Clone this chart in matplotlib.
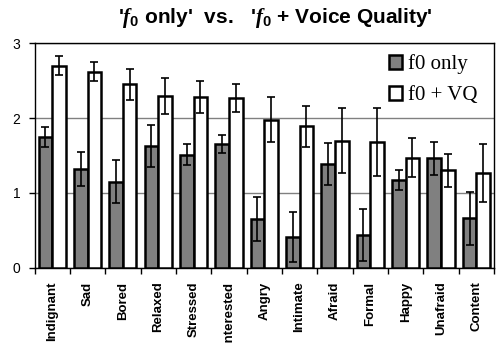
import numpy as np
import matplotlib.pyplot as plt
from matplotlib.ticker import FixedLocator

emotions = ['Indignant', 'Sad', 'Bored', 'Relaxed', 'Stressed', 'Interested',
            'Angry', 'Intimate', 'Afraid', 'Formal', 'Happy', 'Unafraid', 'Content']
f0_mean = [1.75, 1.32, 1.15, 1.63, 1.51, 1.65, 0.65, 0.41, 1.39, 0.44, 1.17, 1.46, 0.66]
f0_err = [0.13, 0.23, 0.29, 0.28, 0.14, 0.12, 0.29, 0.33, 0.28, 0.35, 0.13, 0.22, 0.35]
vq_mean = [2.70, 2.62, 2.45, 2.29, 2.28, 2.27, 1.98, 1.89, 1.70, 1.68, 1.47, 1.30, 1.27]
vq_err = [0.13, 0.13, 0.21, 0.24, 0.21, 0.19, 0.30, 0.27, 0.43, 0.45, 0.26, 0.22, 0.39]
y_ticks = [0, 1, 2, 3]

# italic serif f with a bold sans subscript in the title
plt.rcParams['mathtext.fontset'] = 'custom'
plt.rcParams['mathtext.it'] = 'Liberation Serif:italic:bold'
plt.rcParams['mathtext.bf'] = 'Liberation Sans:bold'
plt.rcParams['mathtext.rm'] = 'Liberation Sans:bold'

fig = plt.figure(figsize=(4.97, 3.43), dpi=100)
ax = fig.add_axes([34.5 / 497, 1 - 267.7 / 343, 459.5 / 497, (267.7 - 43.3) / 343])

x = np.arange(len(emotions))
w = 0.385
ekw = dict(ecolor='black', elinewidth=1.2, capsize=3, capthick=1.2)
ax.bar(x - w / 2, f0_mean, w, yerr=f0_err, color='#808080', edgecolor='black',
       linewidth=1.8, label='f0 only', error_kw=ekw, zorder=3)
ax.bar(x + w / 2, vq_mean, w, yerr=vq_err, color='white', edgecolor='black',
       linewidth=1.8, label='f0 + VQ', error_kw=ekw, zorder=3)

ax.set_xlim(-0.5, len(emotions) - 0.5)
ax.set_ylim(0, 3)
ax.set_yticks(y_ticks)
ax.set_yticklabels([str(t) for t in y_ticks], fontsize=10, family='Liberation Sans')
ax.yaxis.grid(True, color='#808080', linewidth=1, zorder=0)

# category labels sit at the centres, tick marks go on the boundaries
ax.set_xticks(x)
ax.set_xticklabels(emotions, rotation=90, fontsize=9.5, fontweight='bold',
                   family='Liberation Sans')
ax.tick_params(axis='x', which='major', length=0, pad=10)
ax.xaxis.set_minor_locator(FixedLocator(np.arange(-0.5, len(emotions), 1.0)))
ax.tick_params(axis='x', which='minor', length=4, width=1, direction='out')
ax.tick_params(axis='y', length=4, width=1, direction='out', pad=6)

for s in ax.spines.values():
    s.set_linewidth(1)
    s.set_color('black')

leg = ax.legend(loc='upper right', bbox_to_anchor=(0.965, 0.95), frameon=False,
                prop={'family': 'Liberation Serif', 'size': 15},
                handlelength=0.63, handleheight=0.63, handletextpad=0.3, labelspacing=0.55,
                borderaxespad=0, borderpad=0)

fig.text(0.553, 0.948,
         r"'$\mathit{f}_{\mathbf{0}}$ only'  vs.   '$\mathit{f}_{\mathbf{0}}$ + Voice Quality'",
         ha='center', va='center', fontsize=15, fontweight='bold', family='Liberation Sans')

fig.savefig('out.png', dpi=100)
